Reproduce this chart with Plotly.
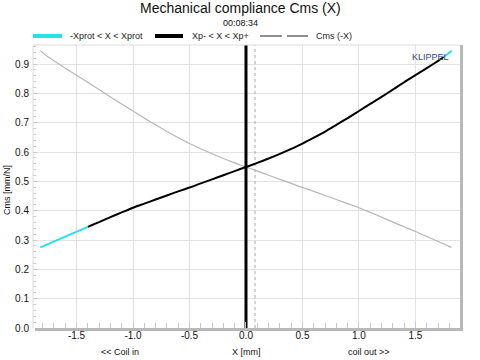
import plotly.graph_objects as go

# ---- data ----
x_mm = [-1.82, -1.7, -1.6, -1.5, -1.4, -1.3, -1.2, -1.1, -1.0, -0.9, -0.8, -0.7,
        -0.6, -0.5, -0.4, -0.3, -0.2, -0.1, 0.0, 0.1, 0.2, 0.3, 0.4, 0.5, 0.6,
        0.7, 0.8, 0.9, 1.0, 1.1, 1.2, 1.3, 1.4, 1.5, 1.6, 1.7, 1.75, 1.82]
cms = [0.275, 0.295, 0.312, 0.329, 0.345, 0.361, 0.378, 0.394, 0.410, 0.424,
       0.438, 0.452, 0.466, 0.479, 0.493, 0.507, 0.521, 0.535, 0.549, 0.563,
       0.578, 0.594, 0.611, 0.629, 0.649, 0.670, 0.693, 0.716, 0.740, 0.764,
       0.788, 0.813, 0.838, 0.862, 0.886, 0.911, 0.924, 0.945]
xp_minus, xp_plus = -1.40, 1.75     # range of black curve
x_center = 0.0                       # thick black vertical line
x_dotted = 0.08                      # dotted vertical line
x_ticks = [-1.5, -1.0, -0.5, 0.0, 0.5, 1.0, 1.5]
x_tick_labels = ["-1.5", "-1.0", "-0.5", "0.0", "0.5", "1.0", "1.5"]
y_ticks = [0.0, 0.1, 0.2, 0.3, 0.4, 0.5, 0.6, 0.7, 0.8, 0.9]
y_tick_labels = ["0.0", "0.1", "0.2", "0.3", "0.4", "0.5", "0.6", "0.7", "0.8", "0.9"]
legend_names = ["-Xprot < X < Xprot", "Xp- < X < Xp+", "Cms (-X)"]

X_RANGE = [-1.885, 1.894]
Y_RANGE = [0.0, 0.965]

CYAN = "#22e2ec"
GRAY = "#b6b6b6"

# split curves
left_x = [x for x in x_mm if x <= xp_minus]
left_y = [c for x, c in zip(x_mm, cms) if x <= xp_minus]
mid_x = [x for x in x_mm if xp_minus <= x <= xp_plus]
mid_y = [c for x, c in zip(x_mm, cms) if xp_minus <= x <= xp_plus]
right_x = [x for x in x_mm if x >= xp_plus]
right_y = [c for x, c in zip(x_mm, cms) if x >= xp_plus]
mirror_x = [-x for x in x_mm]

fig = go.Figure()
fig.add_trace(go.Scatter(x=[x_dotted, x_dotted], y=Y_RANGE, mode="lines",
                         line=dict(color="#a8a8a8", width=1, dash="dot"), hoverinfo="skip"))
fig.add_trace(go.Scatter(x=mirror_x, y=cms, mode="lines",
                         line=dict(color=GRAY, width=1.2, shape="spline", smoothing=0.8)))
fig.add_trace(go.Scatter(x=[x_center, x_center], y=Y_RANGE, mode="lines",
                         line=dict(color="black", width=3)))
fig.add_trace(go.Scatter(x=mid_x, y=mid_y, mode="lines",
                         line=dict(color="black", width=2, shape="spline", smoothing=0.8)))
fig.add_trace(go.Scatter(x=left_x, y=left_y, mode="lines", line=dict(color=CYAN, width=2)))
fig.add_trace(go.Scatter(x=right_x, y=right_y, mode="lines", line=dict(color=CYAN, width=2)))

L, R, T, B = 33, 20, 45, 32
PW, PH = 480 - L - R, 360 - T - B


def px(p):
    return (p - L) / PW


def py(p):
    return (360 - B - p) / PH


FONT = "Liberation Sans, Arial, sans-serif"
shapes = []
annotations = []

# plot frame
shapes.append(dict(type="line", xref="paper", yref="paper", x0=0, x1=1, y0=1, y1=1,
                   line=dict(color="#dcdcdc", width=1)))
shapes.append(dict(type="line", xref="paper", yref="paper", x0=0, x1=0, y0=0, y1=1,
                   line=dict(color="#dcdcdc", width=1)))
shapes.append(dict(type="line", xref="paper", yref="paper", x0=px(460 + 1.5), x1=px(460 + 1.5),
                   y0=py(330), y1=1, line=dict(color="#b8b8b8", width=3)))
shapes.append(dict(type="line", xref="paper", yref="paper", x0=px(35), x1=px(463),
                   y0=py(329.5), y1=py(329.5), line=dict(color="#b8b8b8", width=3)))

# legend
ly = py(36)
shapes.append(dict(type="line", xref="paper", yref="paper", x0=px(33), x1=px(62), y0=ly, y1=ly,
                   line=dict(color=CYAN, width=4)))
shapes.append(dict(type="line", xref="paper", yref="paper", x0=px(155), x1=px(183), y0=ly, y1=ly,
                   line=dict(color="black", width=4)))
shapes.append(dict(type="line", xref="paper", yref="paper", x0=px(260), x1=px(282), y0=ly, y1=ly,
                   line=dict(color="#909090", width=2)))
shapes.append(dict(type="line", xref="paper", yref="paper", x0=px(287), x1=px(308), y0=ly, y1=ly,
                   line=dict(color="#909090", width=2)))
for name, xpx in zip(legend_names, [68, 190, 314]):
    annotations.append(dict(text=name, xref="paper", yref="paper", x=px(xpx), y=ly,
                            xanchor="left", yanchor="middle", showarrow=False,
                            font=dict(size=9, color="#222", family=FONT)))

# titles
annotations.append(dict(text="Mechanical compliance Cms (X)", xref="paper", yref="paper",
                        x=px(240), y=py(8), xanchor="center", yanchor="middle", showarrow=False,
                        font=dict(size=14, color="#111", family=FONT)))
annotations.append(dict(text="00:08:34", xref="paper", yref="paper",
                        x=px(240), y=py(23), xanchor="center", yanchor="middle", showarrow=False,
                        font=dict(size=9, color="#111", family=FONT)))
annotations.append(dict(text="KLIPPEL", xref="paper", yref="paper",
                        x=px(430), y=py(57), xanchor="center", yanchor="middle", showarrow=False,
                        font=dict(size=9, color="#2f4a8a", family=FONT)))
# axis labels
annotations.append(dict(text="Cms [mm/N]", xref="paper", yref="paper", x=px(7), y=py(190),
                        xanchor="center", yanchor="middle", showarrow=False, textangle=-90,
                        font=dict(size=9, color="#111", family=FONT)))
annotations.append(dict(text="X [mm]", xref="paper", yref="paper", x=px(246), y=py(352),
                        xanchor="center", yanchor="middle", showarrow=False,
                        font=dict(size=9, color="#111", family=FONT)))
annotations.append(dict(text="<< Coil in", xref="paper", yref="paper", x=px(120), y=py(352),
                        xanchor="center", yanchor="middle", showarrow=False,
                        font=dict(size=9, color="#111", family=FONT)))
annotations.append(dict(text="coil out >>", xref="paper", yref="paper", x=px(369), y=py(352),
                        xanchor="center", yanchor="middle", showarrow=False,
                        font=dict(size=9, color="#111", family=FONT)))

fig.update_layout(
    width=480, height=360,
    margin=dict(l=L, r=R, t=T, b=B, pad=0),
    paper_bgcolor="white", plot_bgcolor="white",
    showlegend=False,
    shapes=shapes, annotations=annotations,
    font=dict(family=FONT, size=10, color="#111"),
)
fig.update_xaxes(range=X_RANGE, tickmode="array", tickvals=x_ticks, ticktext=x_tick_labels,
                 showgrid=True, gridcolor="#e2e2e2", gridwidth=1, zeroline=False,
                 ticks="inside", ticklen=6, tickcolor="#c8c8c8", showline=False,
                 minor=dict(dtick=0.1, tick0=0, ticks="inside", ticklen=5, tickcolor="#c8c8c8",
                            showgrid=False),
                 tickfont=dict(size=10, family=FONT), fixedrange=True)
fig.update_yaxes(range=Y_RANGE, tickmode="array", tickvals=y_ticks, ticktext=y_tick_labels,
                 showgrid=True, gridcolor="#e2e2e2", gridwidth=1, zeroline=False,
                 ticks="inside", ticklen=4, tickcolor="#c8c8c8", showline=False,
                 ticklabelstandoff=3,
                 minor=dict(dtick=0.02, tick0=0, ticks="inside", ticklen=3, tickcolor="#c8c8c8",
                            showgrid=False),
                 tickfont=dict(size=10, family=FONT), fixedrange=True)

fig.write_html("out.html", config={"displayModeBar": False},
               post_script="document.body.style.margin='0px';")
